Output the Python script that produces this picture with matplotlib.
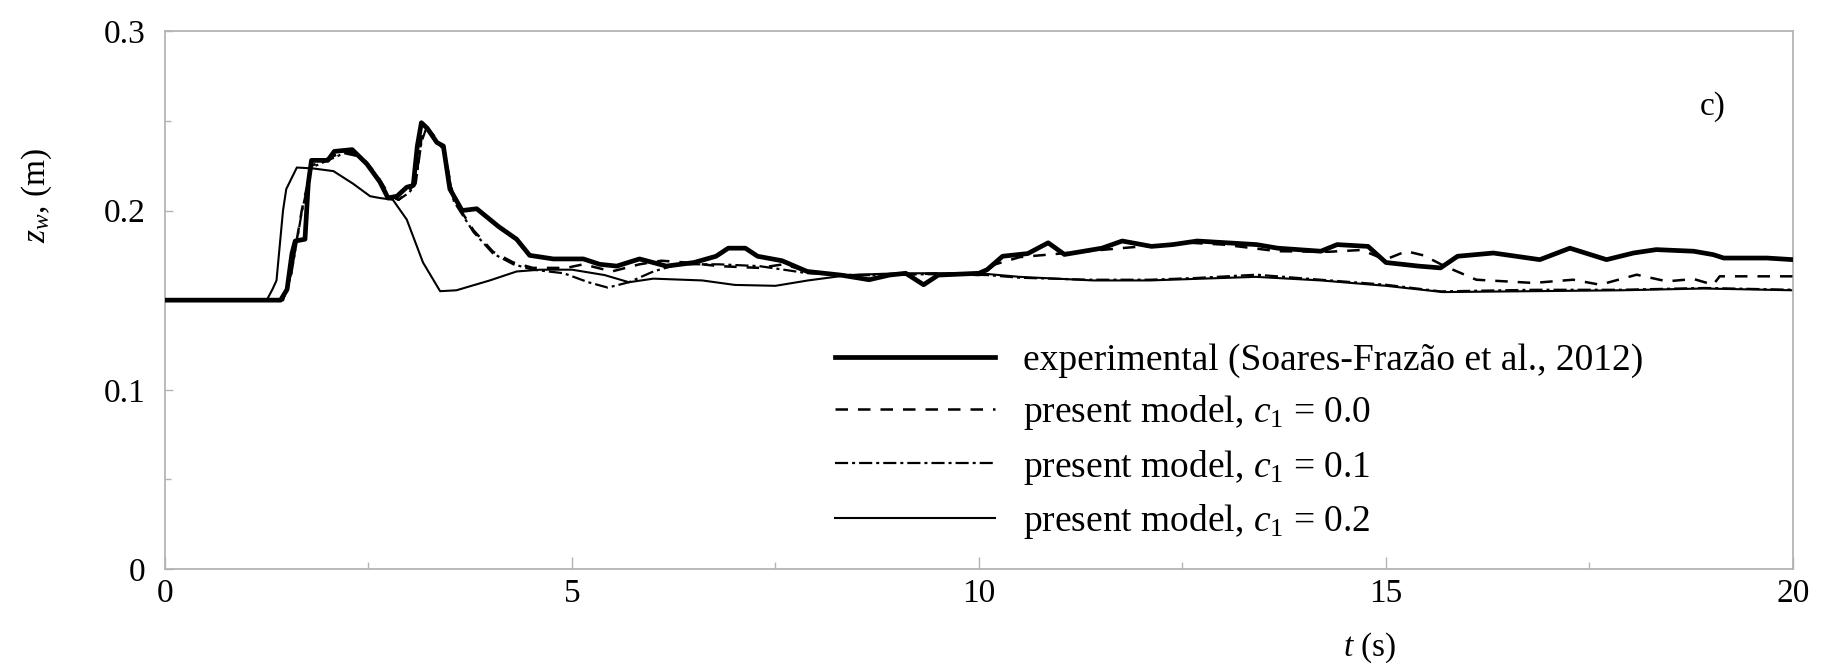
import matplotlib
matplotlib.use('Agg')
import matplotlib.pyplot as plt
from matplotlib.ticker import MultipleLocator, FuncFormatter

# === フォント設定 (Times 系) ===
plt.rcParams['font.family'] = ['Liberation Serif', 'DejaVu Serif']
plt.rcParams['mathtext.fontset'] = 'custom'
plt.rcParams['mathtext.rm'] = 'Liberation Serif'
plt.rcParams['mathtext.it'] = 'Liberation Serif:italic'

# === 実験値 (Soares-Frazão et al., 2012) ===
t_exp = [0.00, 1.42, 1.50, 1.56, 1.60, 1.72, 1.76, 1.80, 2.00, 2.08, 2.30, 2.48, 2.64, 2.74,
         2.85, 2.97, 3.05, 3.10, 3.15, 3.22, 3.34, 3.42, 3.50, 3.65, 3.83, 4.10, 4.32, 4.48,
         4.77, 5.14, 5.34, 5.55, 5.83, 6.16, 6.50, 6.77, 6.92, 7.13, 7.28, 7.58, 7.89, 8.30,
         8.65, 8.90, 9.10, 9.32, 9.50, 10.00, 10.10, 10.29, 10.60, 10.85, 11.05, 11.51, 11.76,
         12.12, 12.38, 12.68, 13.41, 13.67, 14.20, 14.40, 14.78, 15.00, 15.40, 15.67, 15.88,
         16.32, 16.89, 17.26, 17.71, 18.04, 18.32, 18.78, 19.02, 19.15, 19.68, 20.00]
z_exp = [0.150, 0.150, 0.156, 0.176, 0.183, 0.184, 0.215, 0.228, 0.228, 0.233, 0.234, 0.226, 0.216, 0.207,
         0.208, 0.213, 0.214, 0.236, 0.249, 0.246, 0.238, 0.236, 0.212, 0.200, 0.201, 0.191, 0.184, 0.175,
         0.173, 0.173, 0.170, 0.169, 0.173, 0.169, 0.171, 0.1745, 0.179, 0.179, 0.1745, 0.172, 0.166, 0.164,
         0.1614, 0.164, 0.165, 0.1586, 0.164, 0.165, 0.167, 0.1745, 0.176, 0.182, 0.1755, 0.179, 0.183,
         0.180, 0.181, 0.183, 0.181, 0.179, 0.1773, 0.181, 0.180, 0.171, 0.169, 0.168, 0.1745,
         0.1763, 0.1726, 0.179, 0.1726, 0.1763, 0.1782, 0.1773, 0.1754, 0.1735, 0.1735, 0.1726]

# === 本モデル c1 = 0.0 ===
t_c00 = [0.00, 1.45, 1.55, 1.68, 1.80, 2.00, 2.20, 2.40, 2.60, 2.75, 2.87, 3.00, 3.08, 3.15,
         3.21, 3.30, 3.42, 3.55, 3.79, 4.03, 4.28, 4.52, 4.93, 5.14, 5.49, 5.83, 6.10, 6.40,
         6.80, 7.30, 7.60, 7.90, 8.30, 9.00, 9.50, 10.00, 10.20, 10.50, 11.00, 11.50, 12.00,
         12.60, 13.00, 13.67, 14.30, 14.70, 14.99, 15.25, 15.46, 15.72, 16.11, 16.81, 17.30,
         17.63, 18.08, 18.45, 18.78, 19.02, 19.10, 20.00]
z_c00 = [0.150, 0.150, 0.165, 0.200, 0.225, 0.229, 0.233, 0.231, 0.220, 0.209, 0.206, 0.211, 0.216, 0.240,
         0.247, 0.242, 0.235, 0.206, 0.189, 0.177, 0.171, 0.168, 0.168, 0.170, 0.166, 0.170, 0.172, 0.171,
         0.169, 0.168, 0.170, 0.166, 0.164, 0.164, 0.165, 0.164, 0.170, 0.174, 0.176, 0.178, 0.180,
         0.182, 0.181, 0.1773, 0.177, 0.178, 0.1726, 0.1773, 0.175, 0.169, 0.1614, 0.1596, 0.1614,
         0.1586, 0.1642, 0.1605, 0.1618, 0.1586, 0.1633, 0.1633]

# === 本モデル c1 = 0.1 ===
t_c01 = [0.00, 1.45, 1.55, 1.68, 1.80, 2.00, 2.20, 2.40, 2.60, 2.75, 2.87, 3.00, 3.08, 3.15,
         3.21, 3.30, 3.42, 3.55, 3.79, 4.03, 4.28, 4.52, 4.90, 5.20, 5.44, 5.70, 6.00, 6.30,
         6.80, 7.30, 7.90, 8.50, 9.50, 10.10, 10.50, 11.36, 12.10, 12.68, 13.41, 14.20, 15.00,
         15.67, 16.82, 17.87, 18.92, 20.00]
z_c01 = [0.150, 0.150, 0.164, 0.199, 0.224, 0.228, 0.232, 0.230, 0.219, 0.208, 0.206, 0.210, 0.215, 0.238,
         0.246, 0.241, 0.234, 0.205, 0.188, 0.176, 0.170, 0.167, 0.165, 0.160, 0.157, 0.160, 0.166, 0.170,
         0.170, 0.169, 0.165, 0.164, 0.1645, 0.164, 0.1625, 0.1614, 0.1614, 0.1624, 0.1642, 0.1614, 0.1586,
         0.1549, 0.1558, 0.1558, 0.1568, 0.1558]

# === 本モデル c1 = 0.2 ===
t_c02 = [0.00, 1.25, 1.32, 1.37, 1.45, 1.49, 1.62, 1.82, 2.07, 2.31, 2.52, 2.64, 2.80, 2.97,
         3.17, 3.38, 3.58, 3.99, 4.32, 4.61, 5.00, 5.40, 5.70, 6.00, 6.60, 7.00, 7.50, 7.90,
         8.40, 9.00, 10.00, 10.50, 11.40, 12.10, 13.40, 14.20, 15.00, 15.70, 16.80, 17.90,
         18.90, 20.00]
z_c02 = [0.150, 0.150, 0.156, 0.161, 0.200, 0.212, 0.224, 0.2235, 0.222, 0.215, 0.208, 0.207, 0.206, 0.195,
         0.171, 0.155, 0.1555, 0.161, 0.166, 0.167, 0.167, 0.164, 0.160, 0.162, 0.161, 0.1585, 0.158, 0.161,
         0.164, 0.165, 0.165, 0.163, 0.161, 0.161, 0.163, 0.161, 0.158, 0.1545, 0.155, 0.1555,
         0.1565, 0.1555]

labels = ['experimental (Soares-Frazão et al., 2012)',
          'present model, $c_1$ = 0.0',
          'present model, $c_1$ = 0.1',
          'present model, $c_1$ = 0.2']

FS_TICK = 24
FS_LEG = 27
GRAY = '#b4b4b4'

fig = plt.figure(figsize=(18.21, 6.67), dpi=100)
ax = fig.add_axes([0.0906, 0.147, 0.894, 0.806])

ax.plot(t_exp, z_exp, color='black', lw=3.4, label=labels[0], zorder=4)
ax.plot(t_c00, z_c00, color='black', lw=1.8, dashes=(5.0, 4.0), label=labels[1], zorder=3)
ax.plot(t_c01, z_c01, color='black', lw=1.6, dashes=(5.9, 1.8, 1.35, 1.8), label=labels[2], zorder=3)
ax.plot(t_c02, z_c02, color='black', lw=1.5, label=labels[3], zorder=2)

ax.set_xlim(0, 20)
ax.set_ylim(0, 0.3)
ax.xaxis.set_major_locator(MultipleLocator(5))
ax.xaxis.set_minor_locator(MultipleLocator(2.5))
ax.yaxis.set_major_locator(MultipleLocator(0.1))
ax.yaxis.set_minor_locator(MultipleLocator(0.05))
ax.yaxis.set_major_formatter(FuncFormatter(lambda v, p: '0' if abs(v) < 1e-9 else f'{v:.1f}'))
ax.xaxis.set_major_formatter(FuncFormatter(lambda v, p: f'{v:.0f}'))

for s in ax.spines.values():
    s.set_color(GRAY)
    s.set_linewidth(1.3)

ax.tick_params(axis='x', which='major', direction='in', length=9, width=1.0, color=GRAY,
               labelsize=FS_TICK, pad=7)
ax.tick_params(axis='x', which='minor', direction='in', length=5, width=1.0, color=GRAY)
ax.tick_params(axis='y', which='major', direction='in', length=6, width=1.0, color=GRAY,
               labelsize=FS_TICK, pad=14)
ax.tick_params(axis='y', which='minor', direction='in', length=4, width=1.0, color=GRAY)

ax.set_xlabel('$t$ (s)', fontsize=FS_TICK)
ax.xaxis.set_label_coords(0.74, -0.115)
ax.set_ylabel('$z_w$, (m)', fontsize=FS_TICK)
ax.yaxis.set_label_coords(-0.068, 0.695)

ax.text(0.951, 0.86, 'c)', transform=ax.transAxes, fontsize=FS_TICK, ha='center', va='center')

ax.legend(loc='upper left', bbox_to_anchor=(0.4115, 0.42), frameon=False, fontsize=FS_LEG,
          borderpad=0, borderaxespad=0, handlelength=4.27, handletextpad=0.75, labelspacing=0.41)

plt.savefig('out.png', dpi=100)
plt.close()
